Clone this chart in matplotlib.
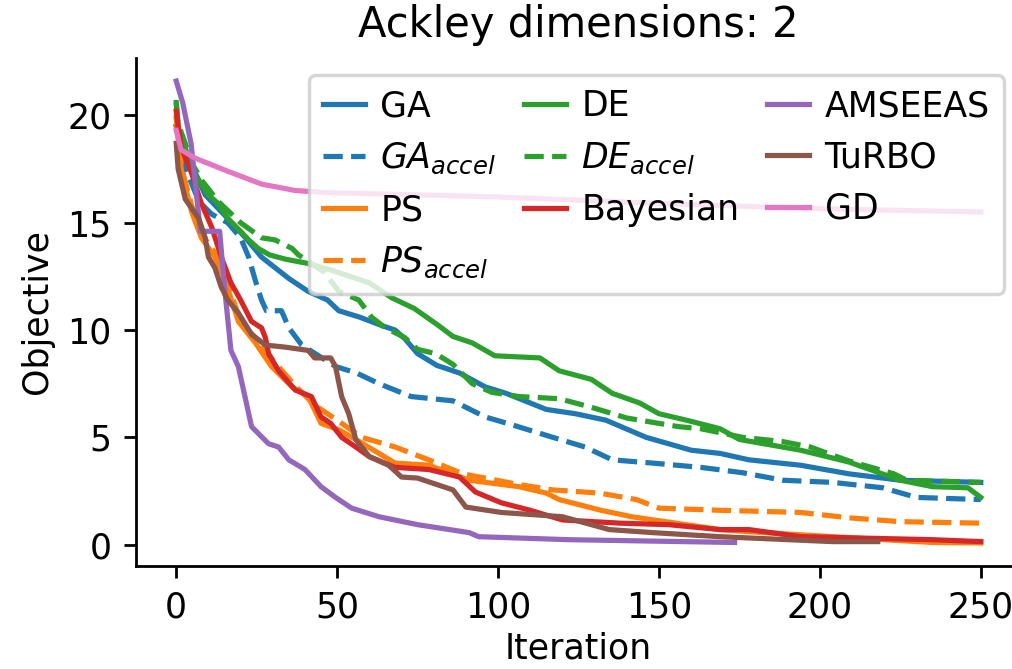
import matplotlib
matplotlib.use("Agg")
import matplotlib.pyplot as plt

# iterations / objective values
ga_it = [0, 3, 6, 9, 16, 21.5, 26.5, 35, 41, 47, 50.5, 57, 64, 68, 71, 75, 81, 88, 96, 102.5, 115, 124, 133.5, 146, 160, 169, 178, 194, 209, 225, 250]
ga_val = [19.5, 18.3, 17.3, 16.3, 15.2, 14.3, 13.4, 12.4, 11.8, 11.4, 10.9, 10.6, 10.2, 10.0, 9.6, 8.9, 8.35, 8.0, 7.35, 7.05, 6.3, 6.1, 5.8, 5.0, 4.4, 4.25, 3.95, 3.7, 3.3, 3.0, 2.9]

gaa_it = [0, 3, 7, 11, 16, 20, 22.5, 24.6, 26.5, 28, 32.7, 35, 39, 49.5, 56, 63, 73, 86, 96, 104, 117, 127, 135.5, 148, 163, 176, 188.5, 204, 219.5, 230, 250]
gaa_val = [19.5, 17.5, 16.0, 15.4, 15.0, 14.3, 13.4, 12.3, 11.4, 10.9, 10.9, 10.1, 9.3, 8.3, 8.0, 7.5, 6.9, 6.7, 5.95, 5.6, 5.0, 4.55, 3.95, 3.8, 3.6, 3.35, 3.0, 2.9, 2.65, 2.2, 2.1]

ps_it = [0, 1.6, 4.8, 7.8, 12, 15, 19.3, 24.6, 29.6, 36, 41, 45, 50.5, 55.8, 68, 78.5, 91, 106.5, 115, 119, 132, 141.5, 169, 178, 204, 235, 250]
ps_val = [19.9, 17.4, 15.5, 14.3, 13.4, 12.4, 10.4, 9.4, 8.3, 7.35, 6.9, 5.65, 5.35, 4.9, 3.8, 3.7, 3.0, 2.7, 2.4, 2.1, 1.6, 1.3, 0.7, 0.6, 0.37, 0.1, 0.08]

psa_it = [0, 1.6, 4.8, 7.8, 12, 15, 20, 25.5, 30, 37, 43, 50, 57.6, 68, 78.5, 89, 106.5, 117, 131.5, 143, 150, 169, 194, 209, 225, 250]
psa_val = [19.9, 17.6, 15.8, 14.5, 13.6, 12.6, 10.4, 9.5, 8.6, 7.4, 6.5, 5.8, 5.0, 4.55, 3.95, 3.3, 2.8, 2.55, 2.4, 2.1, 1.7, 1.6, 1.5, 1.25, 1.07, 1.0]

de_it = [0, 0.6, 2.8, 4.8, 7.8, 10, 13, 16, 20, 22.5, 25.5, 29, 34, 41, 48, 60, 67, 74, 81.6, 86, 92, 99, 113, 119, 129, 135.5, 144, 150, 158.5, 169, 175, 194, 209, 225, 235, 246, 250]
de_val = [20.6, 19.4, 18.5, 17.5, 16.8, 16.3, 15.9, 15.2, 14.6, 14.2, 13.8, 13.5, 13.3, 13.1, 12.8, 12.2, 11.5, 11.0, 10.2, 9.7, 9.4, 8.8, 8.7, 8.1, 7.7, 7.05, 6.6, 6.1, 5.8, 5.4, 4.9, 4.4, 3.85, 3.0, 2.7, 2.65, 2.2]

dea_it = [0, 0.6, 2.8, 4.8, 7.8, 13, 20, 26.5, 30.7, 36, 38, 42, 46, 50.5, 56.7, 60.7, 65, 71, 75, 80.6, 86, 92, 98, 106.5, 119, 129, 140, 148, 156, 163, 176, 188.5, 197, 209, 223, 227, 250]
dea_val = [20.6, 19.6, 18.7, 17.8, 17.0, 16.0, 15.0, 14.3, 14.2, 13.8, 13.5, 13.1, 12.7, 11.8, 11.4, 10.6, 10.1, 9.65, 9.1, 8.9, 8.4, 7.5, 7.1, 6.9, 6.8, 6.4, 5.9, 5.7, 5.5, 5.4, 5.0, 4.8, 4.55, 3.9, 3.3, 3.0, 2.9]

bay_it = [0, 1.6, 4.8, 7.8, 11, 14, 17, 20, 23.4, 26.5, 27.7, 28.7, 31.8, 37, 42, 45, 48, 51.4, 55.8, 60, 68, 78.5, 88, 93, 101, 110, 120, 138, 153, 169, 178, 194, 235, 250]
bay_val = [20.2, 18.5, 17.3, 15.9, 14.8, 13.4, 12.2, 11.4, 10.4, 10.1, 9.65, 8.9, 8.1, 7.2, 6.9, 5.95, 5.65, 5.0, 4.55, 4.1, 3.6, 3.5, 3.15, 2.45, 1.95, 1.6, 1.15, 1.0, 0.93, 0.7, 0.7, 0.37, 0.23, 0.14]

ams_it = [0, 2, 4.6, 6.3, 7.5, 13.5, 15, 17, 19.3, 23.4, 28.7, 31.8, 35, 40, 45, 49.5, 54.5, 63, 75, 91, 94, 122, 173.5]
ams_val = [21.6, 20.6, 18.7, 16.3, 14.6, 14.6, 12.0, 9.05, 8.3, 5.5, 4.7, 4.55, 3.95, 3.5, 2.7, 2.2, 1.7, 1.3, 0.93, 0.56, 0.37, 0.23, 0.1]

tur_it = [0, 0.6, 2.8, 7, 9, 10, 12, 14, 16, 19.3, 23.4, 27.7, 34, 41, 43, 48, 49.5, 51.4, 53.6, 55.8, 60, 66, 70, 75, 86, 90, 101, 120, 134.6, 148, 169, 204, 218]
tur_val = [18.7, 17.5, 16.1, 15.2, 14.3, 13.4, 12.9, 12.0, 11.4, 10.8, 9.8, 9.3, 9.2, 9.05, 8.7, 8.7, 8.3, 6.9, 6.1, 4.9, 4.1, 3.7, 3.15, 3.1, 2.55, 1.75, 1.5, 1.3, 0.7, 0.56, 0.37, 0.14, 0.14]

gd_it = [0, 1.5, 6, 16, 26.5, 37, 47, 75, 100, 150, 200, 250]
gd_val = [19.3, 18.4, 18.0, 17.4, 16.8, 16.5, 16.4, 16.3, 16.2, 15.9, 15.65, 15.5]

series = [
    ("GA", ga_it, ga_val, "C0", "-"),
    ("$GA_{accel}$", gaa_it, gaa_val, "C0", "--"),
    ("PS", ps_it, ps_val, "C1", "-"),
    ("$PS_{accel}$", psa_it, psa_val, "C1", "--"),
    ("DE", de_it, de_val, "C2", "-"),
    ("$DE_{accel}$", dea_it, dea_val, "C2", "--"),
    ("Bayesian", bay_it, bay_val, "C3", "-"),
    ("AMSEEAS", ams_it, ams_val, "C4", "-"),
    ("TuRBO", tur_it, tur_val, "C5", "-"),
    ("GD", gd_it, gd_val, "C6", "-"),
]

dpi = 250
fig = plt.figure(figsize=(1013 / dpi, 669 / dpi), dpi=dpi)
ax = fig.add_axes([136 / 1013, 1 - 566 / 669, (1021 - 136) / 1013, (566 - 58) / 669])

for name, xs, ys, col, ls in series:
    ax.plot(xs, ys, color=col, linestyle=ls, label=name)

ax.spines['top'].set_visible(False)
ax.spines['right'].set_visible(False)
ax.set_xticks([0, 50, 100, 150, 200, 250])
ax.set_yticks([0, 5, 10, 15, 20])
ax.set_xlabel("Iteration", labelpad=2)
ax.set_ylabel("Objective")
ax.set_title("Ackley dimensions: 2", fontsize=12)
ax.legend(ncol=3, loc="upper right", handlelength=1.2,
          handletextpad=0.45, columnspacing=0.8)

fig.savefig("out.png", dpi=dpi)
